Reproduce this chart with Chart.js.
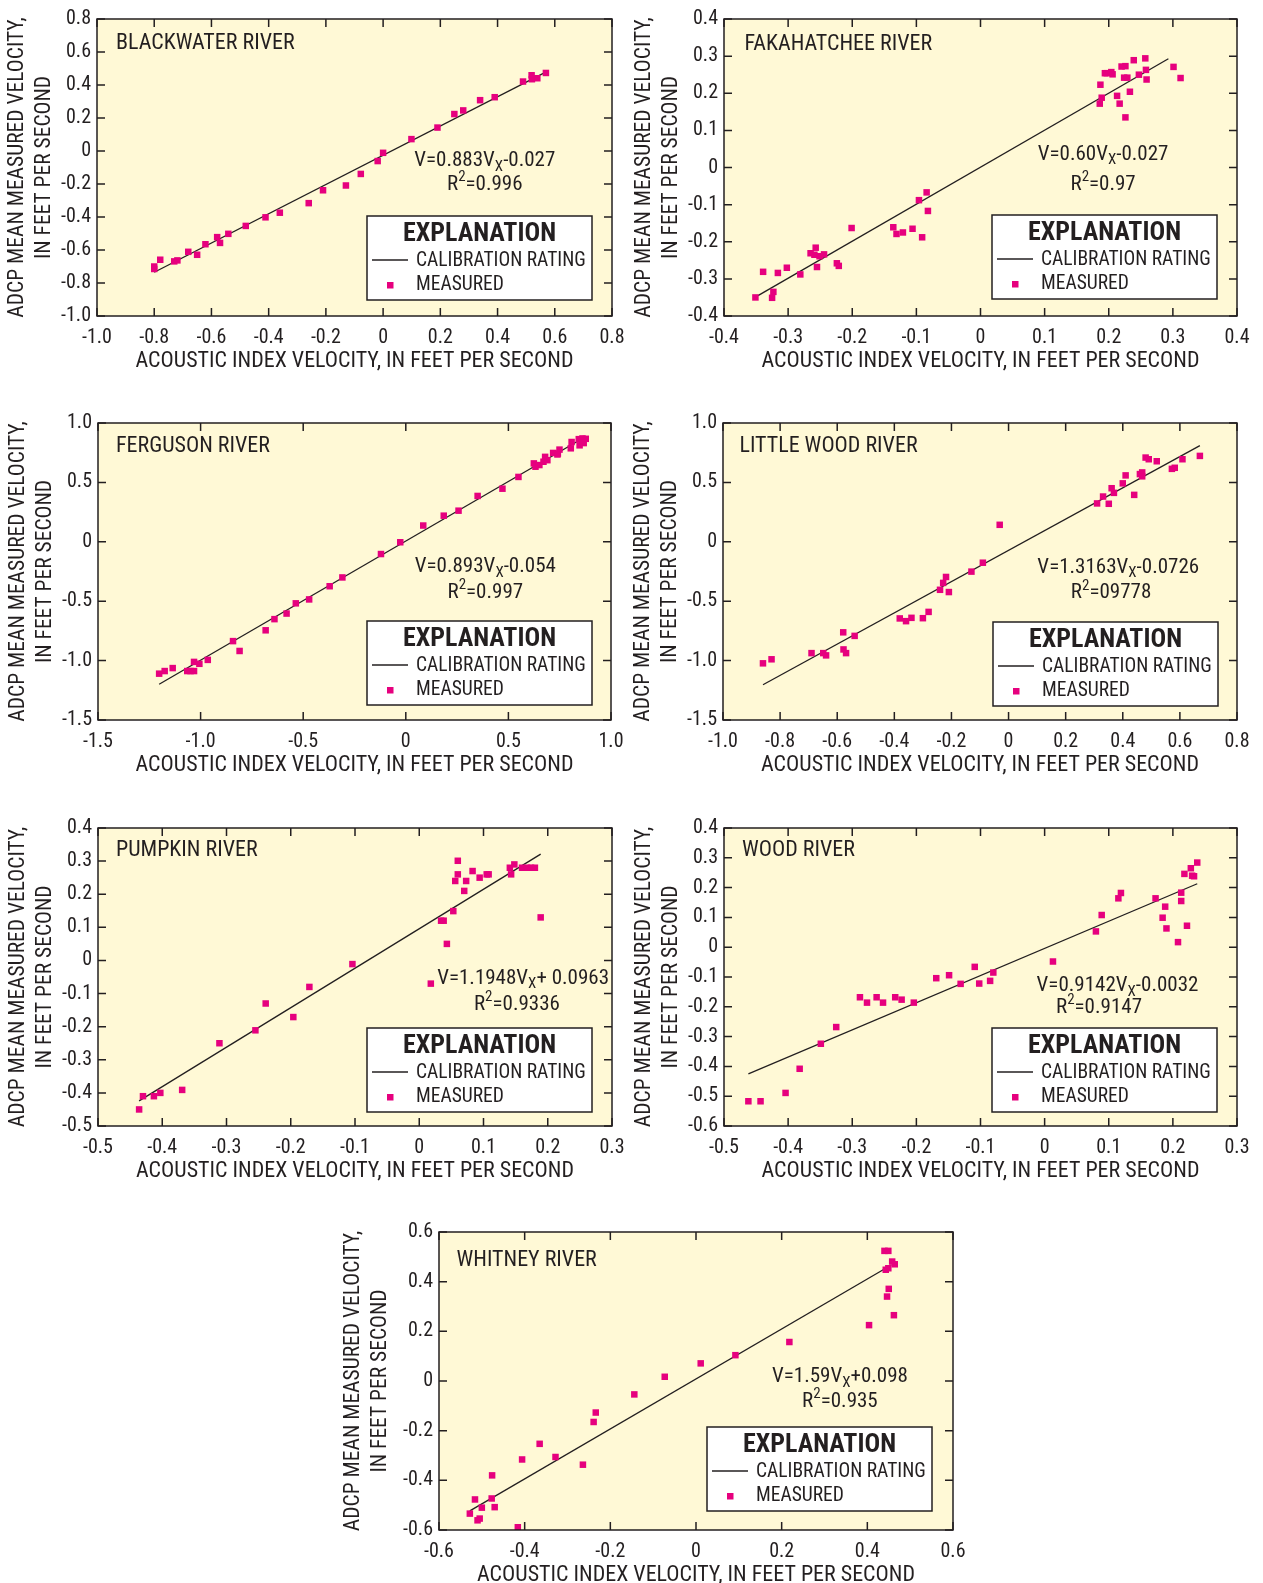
<!DOCTYPE html>
<html>
<head>
<meta charset="utf-8">
<title>Calibration ratings</title>
<script src="https://cdn.jsdelivr.net/npm/chart.js@4.4.1/dist/chart.umd.min.js"></script>
<style>
  html, body { margin: 0; padding: 0; background: #fff; }
  #page { position: relative; width: 1263px; height: 1583px; overflow: hidden; }
  #page canvas { position: absolute; }
</style>
</head>
<body>
<div id="page">
  <canvas id="blackwater"></canvas>
  <canvas id="fakahatchee"></canvas>
  <canvas id="ferguson"></canvas>
  <canvas id="littlewood"></canvas>
  <canvas id="pumpkin"></canvas>
  <canvas id="wood"></canvas>
  <canvas id="whitney"></canvas>
</div>
<script>
// ---- data ----
// tick labels (values are parsed from the strings)
const ticksA = ['-1.0', '-0.8', '-0.6', '-0.4', '-0.2', '0', '0.2', '0.4', '0.6', '0.8'];
const ticksB = ['-0.4', '-0.3', '-0.2', '-0.1', '0', '0.1', '0.2', '0.3', '0.4'];
const ticksC = ['-1.5', '-1.0', '-0.5', '0', '0.5', '1.0'];
const ticksD = ['-0.5', '-0.4', '-0.3', '-0.2', '-0.1', '0', '0.1', '0.2', '0.3'];
const ticksE = ['-0.5', '-0.4', '-0.3', '-0.2', '-0.1', '0', '0.1', '0.2', '0.3', '0.4'];
const ticksF = ['-0.6', '-0.5', '-0.4', '-0.3', '-0.2', '-0.1', '0', '0.1', '0.2', '0.3', '0.4'];
const ticksG = ['-0.6', '-0.4', '-0.2', '0', '0.2', '0.4', '0.6'];

// Blackwater River
const blackwaterX = [-0.80, -0.80, -0.779, -0.730, -0.719, -0.681, -0.650, -0.621, -0.580, -0.570, -0.541, -0.480, -0.411, -0.361, -0.260, -0.210, -0.130, -0.078, -0.019, 0.000, 0.099, 0.190, 0.249, 0.280, 0.339, 0.390, 0.489, 0.519, 0.520, 0.539, 0.569];
const blackwaterY = [-0.700, -0.715, -0.659, -0.669, -0.663, -0.611, -0.629, -0.565, -0.522, -0.557, -0.502, -0.454, -0.402, -0.374, -0.316, -0.238, -0.209, -0.139, -0.061, -0.011, 0.072, 0.142, 0.224, 0.246, 0.308, 0.326, 0.421, 0.459, 0.435, 0.441, 0.473];
const blackwaterFitX = [-0.80, 0.565];
const blackwaterFitY = [-0.735, 0.475];

// Fakahatchee River
const fakahatcheeX = [-0.351, -0.339, -0.323, -0.325, -0.316, -0.302, -0.281, -0.265, -0.257, -0.259, -0.255, -0.251, -0.244, -0.224, -0.221, -0.201, -0.136, -0.131, -0.121, -0.106, -0.091, -0.096, -0.084, -0.082, 0.187, 0.186, 0.189, 0.194, 0.197, 0.204, 0.206, 0.213, 0.217, 0.220, 0.226, 0.224, 0.229, 0.226, 0.233, 0.239, 0.247, 0.257, 0.258, 0.259, 0.301, 0.312];
const fakahatcheeY = [-0.350, -0.281, -0.335, -0.351, -0.284, -0.270, -0.288, -0.231, -0.216, -0.235, -0.268, -0.239, -0.234, -0.258, -0.265, -0.163, -0.161, -0.179, -0.175, -0.165, -0.188, -0.088, -0.067, -0.117, 0.223, 0.172, 0.188, 0.254, 0.254, 0.257, 0.251, 0.193, 0.172, 0.272, 0.273, 0.242, 0.242, 0.135, 0.204, 0.289, 0.250, 0.294, 0.263, 0.237, 0.271, 0.241];
const fakahatcheeFitX = [-0.347, 0.293];
const fakahatcheeFitY = [-0.345, 0.293];

// Ferguson River
const fergusonX = [-1.202, -1.175, -1.136, -1.065, -1.049, -1.032, -1.032, -1.006, -0.965, -0.842, -0.810, -0.683, -0.640, -0.581, -0.536, -0.471, -0.371, -0.309, -0.121, -0.027, 0.085, 0.185, 0.257, 0.350, 0.471, 0.549, 0.624, 0.632, 0.651, 0.671, 0.679, 0.690, 0.718, 0.741, 0.749, 0.739, 0.804, 0.808, 0.843, 0.847, 0.861, 0.867, 0.877, 0.859];
const fergusonY = [-1.110, -1.088, -1.063, -1.088, -1.088, -1.088, -1.011, -1.027, -0.994, -0.836, -0.919, -0.745, -0.651, -0.604, -0.518, -0.485, -0.374, -0.300, -0.103, -0.004, 0.137, 0.220, 0.262, 0.386, 0.447, 0.546, 0.660, 0.632, 0.646, 0.674, 0.715, 0.687, 0.748, 0.743, 0.776, 0.735, 0.787, 0.840, 0.864, 0.812, 0.870, 0.831, 0.867, 0.848];
const fergusonFitX = [-1.202, 0.867];
const fergusonFitY = [-1.199, 0.876];

// Little Wood River
const littlewoodX = [-0.860, -0.830, -0.690, -0.649, -0.639, -0.579, -0.578, -0.569, -0.539, -0.381, -0.359, -0.340, -0.300, -0.280, -0.240, -0.229, -0.219, -0.209, -0.130, -0.090, -0.031, 0.310, 0.331, 0.351, 0.361, 0.369, 0.400, 0.410, 0.440, 0.460, 0.468, 0.468, 0.480, 0.491, 0.519, 0.572, 0.582, 0.609, 0.670];
const littlewoodY = [-1.023, -0.989, -0.937, -0.937, -0.956, -0.762, -0.906, -0.937, -0.792, -0.645, -0.668, -0.640, -0.643, -0.590, -0.404, -0.346, -0.296, -0.423, -0.251, -0.176, 0.143, 0.323, 0.381, 0.320, 0.451, 0.412, 0.492, 0.559, 0.395, 0.570, 0.584, 0.551, 0.709, 0.695, 0.678, 0.614, 0.623, 0.695, 0.723];
const littlewoodFitX = [-0.860, 0.670];
const littlewoodFitY = [-1.203, 0.809];

// Pumpkin River
const pumpkinX = [-0.436, -0.430, -0.413, -0.403, -0.369, -0.311, -0.255, -0.239, -0.196, -0.171, -0.104, 0.018, 0.034, 0.038, 0.043, 0.053, 0.056, 0.060, 0.060, 0.070, 0.073, 0.083, 0.094, 0.105, 0.108, 0.141, 0.143, 0.148, 0.160, 0.168, 0.174, 0.180, 0.189];
const pumpkinY = [-0.450, -0.410, -0.410, -0.400, -0.391, -0.250, -0.211, -0.130, -0.171, -0.080, -0.011, -0.070, 0.120, 0.120, 0.050, 0.149, 0.240, 0.301, 0.260, 0.210, 0.240, 0.270, 0.250, 0.260, 0.260, 0.280, 0.260, 0.290, 0.280, 0.280, 0.280, 0.280, 0.130];
const pumpkinFitX = [-0.436, 0.189];
const pumpkinFitY = [-0.424, 0.321];

// Wood River
const woodX = [-0.462, -0.443, -0.404, -0.382, -0.349, -0.325, -0.288, -0.277, -0.262, -0.252, -0.233, -0.223, -0.204, -0.169, -0.149, -0.131, -0.109, -0.102, -0.085, -0.080, 0.013, 0.080, 0.089, 0.115, 0.119, 0.173, 0.184, 0.188, 0.190, 0.208, 0.213, 0.213, 0.218, 0.222, 0.228, 0.230, 0.233, 0.238];
const woodY = [-0.517, -0.517, -0.489, -0.408, -0.324, -0.268, -0.168, -0.186, -0.168, -0.186, -0.168, -0.176, -0.186, -0.104, -0.094, -0.123, -0.066, -0.122, -0.113, -0.085, -0.048, 0.053, 0.108, 0.164, 0.182, 0.164, 0.099, 0.136, 0.063, 0.017, 0.183, 0.155, 0.246, 0.072, 0.265, 0.240, 0.238, 0.284];
const woodFitX = [-0.462, 0.238];
const woodFitY = [-0.425, 0.213];

// Whitney River
const whitneyX = [-0.528, -0.516, -0.510, -0.505, -0.500, -0.477, -0.476, -0.470, -0.416, -0.406, -0.365, -0.328, -0.264, -0.239, -0.234, -0.144, -0.073, 0.011, 0.092, 0.218, 0.404, 0.440, 0.449, 0.443, 0.449, 0.458, 0.464, 0.450, 0.446, 0.462];
const whitneyY = [-0.534, -0.477, -0.561, -0.554, -0.510, -0.473, -0.380, -0.508, -0.589, -0.316, -0.253, -0.306, -0.337, -0.165, -0.127, -0.054, 0.017, 0.071, 0.104, 0.157, 0.225, 0.524, 0.524, 0.448, 0.454, 0.481, 0.470, 0.371, 0.340, 0.265];
const whitneyFitX = [-0.528, 0.456];
const whitneyFitY = [-0.523, 0.467];

// ---- style ----
const FONT = '"Liberation Sans Narrow", "Roboto Condensed", "DejaVu Sans Condensed", "Liberation Sans", sans-serif';
const INK = '#231f20';
const PINK = '#e6007e';
const PAPER = '#fff9d6';
const PT = 14, PR = 26, XH = 64, TICK = 8;
const LEG_W = 225, LEG_H = 84;

function pts(xs, ys) {
  return xs.map((x, i) => ({ x: x, y: ys[i] }));
}

function drawParts(ctx, parts, cx, cy, shift) {
  // parts = [text, small text (sub/superscript), text]
  const big = '21px ' + FONT, small = '15px ' + FONT;
  ctx.font = big;
  const w1 = ctx.measureText(parts[0]).width;
  const w3 = ctx.measureText(parts[2]).width;
  ctx.font = small;
  const w2 = ctx.measureText(parts[1]).width;
  let x = cx - (w1 + w2 + w3) / 2;
  ctx.textAlign = 'left';
  ctx.textBaseline = 'middle';
  ctx.font = big; ctx.fillText(parts[0], x, cy); x += w1;
  ctx.font = small; ctx.fillText(parts[1], x, cy + shift); x += w2;
  ctx.font = big; ctx.fillText(parts[2], x, cy);
}

const decor = {
  id: 'decor',
  beforeDraw(chart) {
    const { ctx, chartArea: a } = chart;
    ctx.save();
    ctx.fillStyle = PAPER;
    ctx.fillRect(a.left, a.top, a.right - a.left, a.bottom - a.top);
    ctx.restore();
  },
  afterDatasetsDraw(chart, args, o) {
    const { ctx, chartArea: a, scales } = chart;
    const w = a.right - a.left, h = a.bottom - a.top;
    ctx.save();
    ctx.strokeStyle = INK;
    ctx.lineWidth = 1.5;
    ctx.strokeRect(a.left, a.top, w, h);
    ctx.beginPath();
    scales.x.ticks.forEach(t => {
      const px = scales.x.getPixelForValue(t.value);
      ctx.moveTo(px, a.bottom); ctx.lineTo(px, a.bottom - TICK);
      ctx.moveTo(px, a.top); ctx.lineTo(px, a.top + TICK);
    });
    scales.y.ticks.forEach(t => {
      const py = scales.y.getPixelForValue(t.value);
      ctx.moveTo(a.left, py); ctx.lineTo(a.left + TICK, py);
      ctx.moveTo(a.right, py); ctx.lineTo(a.right - TICK, py);
    });
    ctx.stroke();

    ctx.fillStyle = INK;
    ctx.font = '22px ' + FONT;
    ctx.textAlign = 'left';
    ctx.textBaseline = 'middle';
    ctx.fillText(o.name, a.left + o.nameAt[0] * w, a.top + o.nameAt[1] * h);
    drawParts(ctx, o.eq, a.left + o.eqAt[0] * w, a.top + o.eqAt[1] * h, 6);
    drawParts(ctx, ['R', '2', '=' + o.r2], a.left + o.r2At[0] * w, a.top + o.r2At[1] * h, -7);

    // explanation box
    const lx = a.right - o.leg[0] - LEG_W, ly = a.bottom - o.leg[1] - LEG_H;
    ctx.fillStyle = '#ffffff';
    ctx.fillRect(lx, ly, LEG_W, LEG_H);
    ctx.strokeStyle = INK;
    ctx.lineWidth = 1.5;
    ctx.strokeRect(lx, ly, LEG_W, LEG_H);
    ctx.fillStyle = INK;
    ctx.font = 'bold 26px ' + FONT;
    ctx.textAlign = 'center';
    ctx.fillText('EXPLANATION', lx + LEG_W / 2, ly + 18);
    ctx.font = '19.5px ' + FONT;
    ctx.textAlign = 'left';
    ctx.fillText('CALIBRATION RATING', lx + 49, ly + 45);
    ctx.fillText('MEASURED', lx + 49, ly + 69);
    ctx.lineWidth = 1.3;
    ctx.beginPath();
    ctx.moveTo(lx + 5, ly + 44); ctx.lineTo(lx + 41, ly + 44);
    ctx.stroke();
    ctx.fillStyle = PINK;
    ctx.fillRect(lx + 20, ly + 66, 6.5, 6.5);
    ctx.restore();
  }
};

function axis(labels, isX, yw) {
  const vals = labels.map(Number);
  return {
    type: 'linear',
    min: vals[0],
    max: vals[vals.length - 1],
    afterBuildTicks: s => { s.ticks = vals.map(v => ({ value: v })); },
    afterFit: s => { if (isX) s.height = XH; else s.width = yw; },
    grid: { display: false, drawTicks: false },
    border: { display: false },
    ticks: {
      callback: (v, i) => labels[i],
      font: { family: FONT, size: 20 },
      color: INK,
      padding: isX ? 10 : 6,
      autoSkip: false,
      maxRotation: 0
    },
    title: isX
      ? { display: true, text: 'ACOUSTIC INDEX VELOCITY, IN FEET PER SECOND', color: INK,
          font: { family: FONT, size: 22, lineHeight: 1.2 }, padding: { top: 0, bottom: 5 } }
      : { display: true, text: ['ADCP MEAN MEASURED VELOCITY,', 'IN FEET PER SECOND'], color: INK,
          font: { family: FONT, size: 21.5, lineHeight: 1.22 }, padding: { top: 5, bottom: 0 } }
  };
}

function panel(p) {
  const cv = document.getElementById(p.id);
  cv.width = p.box[1] - p.box[0] + p.yw + PR;
  cv.height = p.box[3] - p.box[2] + PT + XH;
  cv.style.left = (p.box[0] - p.yw) + 'px';
  cv.style.top = (p.box[2] - PT) + 'px';
  new Chart(cv, {
    type: 'scatter',
    data: {
      datasets: [
        { data: pts(p.x, p.y), pointStyle: 'rect', pointRadius: 4.6, pointBorderWidth: 0,
          backgroundColor: PINK, borderColor: PINK },
        { type: 'line', data: pts(p.fitX, p.fitY), borderColor: INK, borderWidth: 1.3,
          pointRadius: 0, fill: false }
      ]
    },
    options: {
      responsive: false,
      animation: false,
      devicePixelRatio: 1,
      layout: { padding: { top: PT, right: PR, left: 0, bottom: 0 } },
      scales: { x: axis(p.xt, true, p.yw), y: axis(p.yt, false, p.yw) },
      plugins: {
        legend: { display: false },
        tooltip: { enabled: false },
        decor: p.decor
      }
    },
    plugins: [decor]
  });
}

panel({ id: 'blackwater', box: [97, 612, 15, 316], yw: 97, x: blackwaterX, y: blackwaterY,
  fitX: blackwaterFitX, fitY: blackwaterFitY, xt: ticksA, yt: ticksA,
  decor: { name: 'BLACKWATER RIVER', nameAt: [0.037, 0.083], eq: ['V=0.883V', 'X', '-0.027'],
    eqAt: [0.753, 0.478], r2: '0.996', r2At: [0.753, 0.557], leg: [20, 16] } });

panel({ id: 'fakahatchee', box: [724, 1237, 15, 316], yw: 97, x: fakahatcheeX, y: fakahatcheeY,
  fitX: fakahatcheeFitX, fitY: fakahatcheeFitY, xt: ticksB, yt: ticksB,
  decor: { name: 'FAKAHATCHEE RIVER', nameAt: [0.040, 0.085], eq: ['V=0.60V', 'X', '-0.027'],
    eqAt: [0.739, 0.456], r2: '0.97', r2At: [0.739, 0.557], leg: [20, 17] } });

panel({ id: 'ferguson', box: [98, 611, 419, 720], yw: 97, x: fergusonX, y: fergusonY,
  fitX: fergusonFitX, fitY: fergusonFitY, xt: ticksC, yt: ticksC,
  decor: { name: 'FERGUSON RIVER', nameAt: [0.035, 0.079], eq: ['V=0.893V', 'X', '-0.054'],
    eqAt: [0.755, 0.485], r2: '0.997', r2At: [0.755, 0.570], leg: [19, 15] } });

panel({ id: 'littlewood', box: [723, 1237, 419, 720], yw: 97, x: littlewoodX, y: littlewoodY,
  fitX: littlewoodFitX, fitY: littlewoodFitY, xt: ticksA, yt: ticksC,
  decor: { name: 'LITTLE WOOD RIVER', nameAt: [0.032, 0.079], eq: ['V=1.3163V', 'X', '-0.0726'],
    eqAt: [0.769, 0.486], r2: '09778', r2At: [0.755, 0.572], leg: [19, 14] } });

panel({ id: 'pumpkin', box: [98, 612, 824, 1126], yw: 97, x: pumpkinX, y: pumpkinY,
  fitX: pumpkinFitX, fitY: pumpkinFitY, xt: ticksD, yt: ticksE,
  decor: { name: 'PUMPKIN RIVER', nameAt: [0.035, 0.077], eq: ['V=1.1948V', 'X', '+ 0.0963'],
    eqAt: [0.827, 0.505], r2: '0.9336', r2At: [0.815, 0.593], leg: [20, 14] } });

panel({ id: 'wood', box: [724, 1237, 824, 1126], yw: 97, x: woodX, y: woodY,
  fitX: woodFitX, fitY: woodFitY, xt: ticksD, yt: ticksF,
  decor: { name: 'WOOD RIVER', nameAt: [0.035, 0.077], eq: ['V=0.9142V', 'X', '-0.0032'],
    eqAt: [0.767, 0.530], r2: '0.9147', r2At: [0.731, 0.603], leg: [20, 14] } });

panel({ id: 'whitney', box: [439, 953, 1228, 1530], yw: 103, x: whitneyX, y: whitneyY,
  fitX: whitneyFitX, fitY: whitneyFitY, xt: ticksG, yt: ticksG,
  decor: { name: 'WHITNEY RIVER', nameAt: [0.034, 0.094], eq: ['V=1.59V', 'X', '+0.098'],
    eqAt: [0.780, 0.486], r2: '0.935', r2At: [0.780, 0.569], leg: [21, 19] } });
</script>
</body>
</html>
